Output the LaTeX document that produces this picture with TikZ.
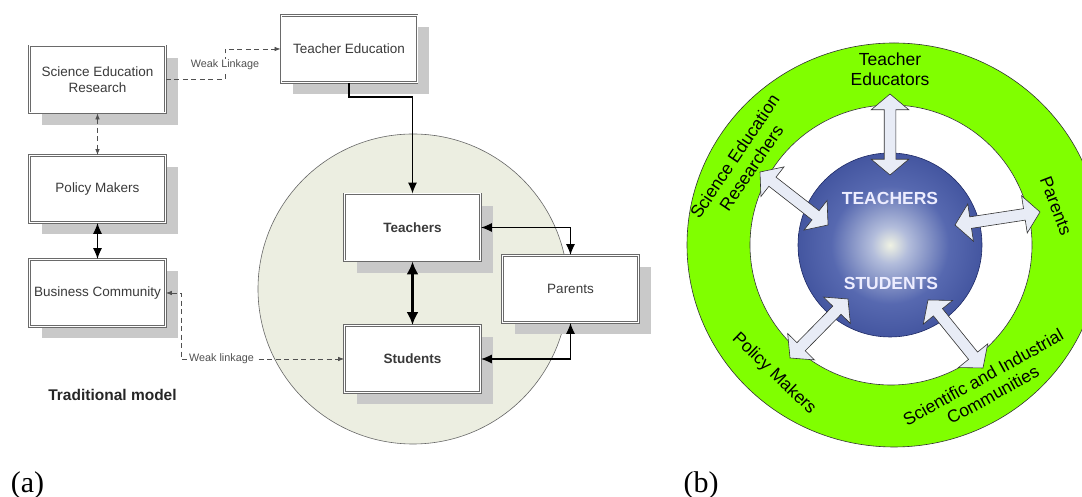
\documentclass[tikz,border=0pt]{standalone}
\usepackage{fontspec}
\setmainfont{Liberation Serif}
\setsansfont{Liberation Sans}
\usetikzlibrary{arrows.meta,shapes.arrows,calc}

\definecolor{circfill}{HTML}{ECEEE1}
\definecolor{boxline}{HTML}{6A6A6A}
\definecolor{shadowgray}{HTML}{C9C9C9}
\definecolor{limegreen}{HTML}{80FF00}
\definecolor{arrowfill}{HTML}{E8ECF6}
\definecolor{txtgray}{HTML}{3A3A3A}
\definecolor{weakgray}{HTML}{505050}
\definecolor{spherenavy}{HTML}{1E2A66}

\pgfdeclareradialshading{spheresh}{\pgfpoint{0bp}{0bp}}{rgb(0bp)=(0.94,0.95,0.89);rgb(5bp)=(0.70,0.74,0.86);rgb(16bp)=(0.34,0.41,0.69);rgb(32bp)=(0.21,0.28,0.58);rgb(50bp)=(0.15,0.21,0.50)}

\newcommand\bxfont{\sffamily\fontsize{13.5}{16}\selectfont}
\newcommand\bxbold{\sffamily\bfseries\fontsize{13.5}{16}\selectfont}
\newcommand\wkfont{\sffamily\fontsize{10.8}{12}\selectfont}
\newcommand\rgfont{\sffamily\fontsize{17.5}{20}\selectfont}
\newcommand\sphfont{\sffamily\bfseries\fontsize{17.5}{19}\selectfont}
\newcommand\capfont{\rmfamily\fontsize{30}{32}\selectfont}

\newcommand\blockarr[3]{\path let \p1=($(#2)-(#1)$), \n1={atan2(\y1,\x1)}, \n2={veclen(\x1,\y1)} in node[blockarrow, rotate=\n1, minimum height=\n2] (#3) at ($(#1)!0.5!(#2)$) {};}

\tikzset{
  box/.style={draw=boxline, double=white, double distance=1pt, line width=0.8pt,
    fill=white, minimum width=136pt, minimum height=67pt, inner sep=2pt,
    align=center, font=\bxfont, text=txtgray,
    preaction={fill=shadowgray, transform canvas={shift={(12pt,-12pt)}}}},
  weak/.style={draw=weakgray, line width=0.7pt, dash pattern=on 5pt off 3.5pt,
    >={Latex[length=6pt,width=4.5pt]}},
  wlabel/.style={fill=white, inner sep=1pt, font=\wkfont, text=weakgray},
  mid/.style={draw=black, line width=1.3pt, >={Latex[length=11pt,width=9pt]}},
  heavy/.style={draw=black, line width=3pt, >={Latex[length=13pt,width=12pt]}},
  blockarrow/.style={double arrow, draw=black!80, fill=arrowfill, line width=0.6pt,
    inner xsep=0pt, inner ysep=5.5pt, minimum width=0pt,
    double arrow head extend=13pt, double arrow tip angle=100},
  ringtext/.style={font=\rgfont, align=center, inner sep=0pt, text=black}
}

\begin{document}
\begin{tikzpicture}[x=1pt, y=1pt]
\useasboundingbox (0,0) rectangle (1082,497);
\clip (0,0) rectangle (1082,497);

% ---------------- (a) traditional model ----------------
\node[circle, fill=circfill, draw=black!60, line width=0.6pt, minimum size=310pt, inner sep=0pt] (core) at (413,208) {};

\node[box] (ser) at (97.5,417.5) {Science Education\\Research};
\node[box] (pm) at (97.5,308) {Policy Makers};
\node[box] (bc) at (97.5,204) {Business Community};
\node[box] (te) at (349,448) {Teacher Education};
\node[box, font=\bxbold] (teachers) at (412.5,269.5) {Teachers};
\node[box, font=\bxbold] (students) at (412.5,138) {Students};
\node[box] (parents) at (570.5,208) {Parents};

\draw[weak, ->] (ser.east) -- ++(59,0) |- (te.west);
\node[wlabel] (wl1) at (225,432) {Weak Linkage};
\draw[weak, <->] (ser.south) -- (pm.north);
\draw[mid, <->] (pm.south) -- (bc.north);
\draw[weak, <->] (bc.east) -- ++(15,0) |- (students.west);
\node[wlabel] (wl2) at (221.5,138) {Weak linkage};

\draw[mid, ->] (te.south) -- ++(0,-14) -| (teachers.north);
\draw[heavy, <->] (teachers.south) -- (students.north);
\draw[mid, <->] (teachers.east) -| (parents.north);
\draw[mid, <->] (students.east) -| (parents.south);

\node[font=\sffamily\bfseries\fontsize{15.5}{18}\selectfont, text=black!85] (trad) at (112.5,102) {Traditional model};
\node[font=\capfont] (capa) at (27.5,12) {(a)};

% ---------------- (b) new model ----------------
\filldraw[fill=limegreen, draw=black!80, line width=0.6pt] (894,252) ellipse [x radius=207, y radius=202];
\filldraw[fill=white, draw=black!80, line width=0.6pt] (891,252) ellipse [x radius=141, y radius=140];
\node[circle, minimum size=184pt, inner sep=0pt, shading=spheresh, draw=spherenavy, line width=0.6pt] (sphere) at (890,252) {};

\coordinate (tA) at (890,403);  \coordinate (tB) at (890,322);
\coordinate (ulA) at (760,325); \coordinate (ulB) at (828,272);
\coordinate (rA) at (955,272);  \coordinate (rB) at (1040,285);
\coordinate (llA) at (848,198); \coordinate (llB) at (790,139);
\coordinate (lrA) at (928,197); \coordinate (lrB) at (983,129);
\blockarr{tA}{tB}{atop}
\blockarr{ulA}{ulB}{aul}
\blockarr{rA}{rB}{ar}
\blockarr{llA}{llB}{all}
\blockarr{lrA}{lrB}{alr}

\node[font=\sphfont, text=white!93!blue] (tch) at (890,299) {TEACHERS};
\node[font=\sphfont, text=white!93!blue] (stu) at (891,214) {STUDENTS};

\node[ringtext] (tedu) at (890,427.5) {Teacher\\Educators};
\node[ringtext, rotate=56] (ser2) at (743,335) {Science Education\\Researchers};
\node[ringtext, rotate=-69] (par2) at (1056,291) {Parents};
\node[ringtext, rotate=-44] (pol2) at (774,123) {Policy Makers};
\node[ringtext, rotate=29] (sic2) at (988,111) {Scientific and Industrial\\Communities};

\node[font=\capfont] (capb) at (701,12) {(b)};
\end{tikzpicture}
\end{document}
